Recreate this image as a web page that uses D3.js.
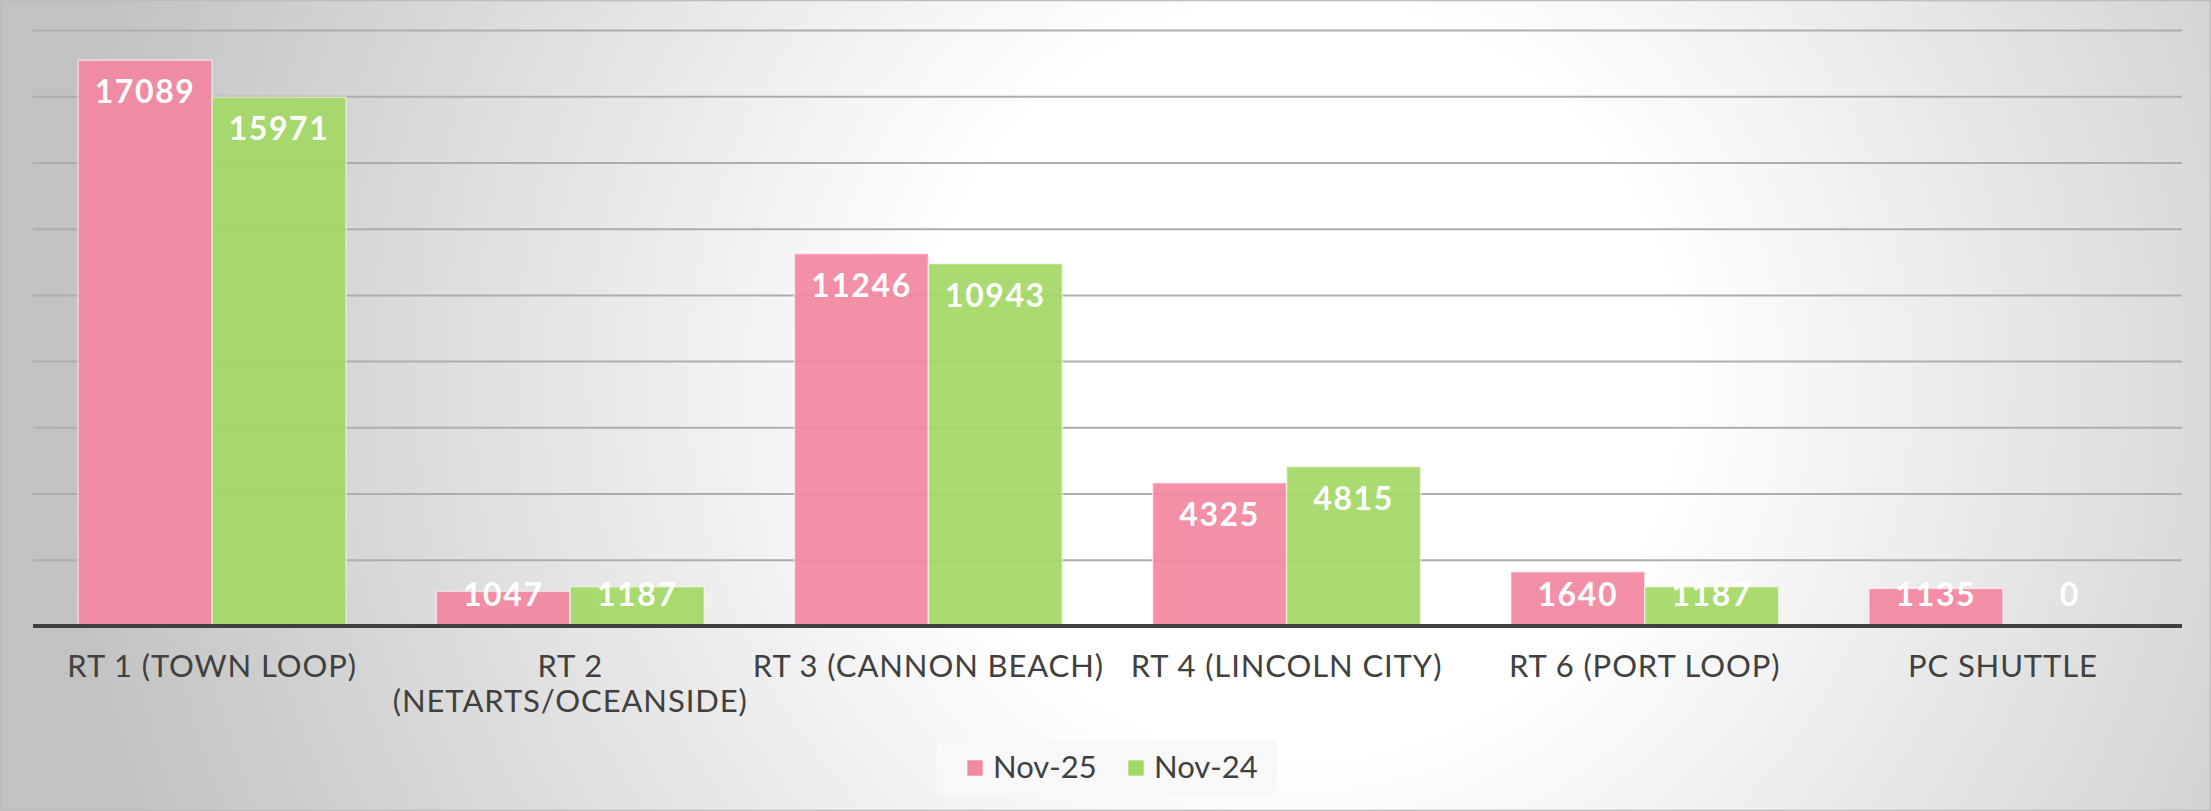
<!DOCTYPE html>
<html>
<head>
<meta charset="utf-8">
<script src="https://cdn.jsdelivr.net/npm/d3@7"></script>
<style>
  html, body { margin: 0; padding: 0; background: #fff; }
  svg { display: block; }
  .cat-label { font-family: Lato, 'Open Sans', sans-serif; font-size: 31px; fill: #404040; letter-spacing: 0.9px; }
  .val-label { font-family: Lato, 'Open Sans', sans-serif; font-size: 32px; font-weight: 700; fill: #fff; letter-spacing: 1.6px; }
  .legend-label { font-family: Lato, 'Open Sans', sans-serif; font-size: 31px; fill: #404040; }
</style>
</head>
<body>
<div id="chart"></div>
<script>
const categories = [
  'RT 1 (TOWN LOOP)',
  'RT 2 (NETARTS/OCEANSIDE)',
  'RT 3 (CANNON BEACH)',
  'RT 4 (LINCOLN CITY)',
  'RT 6 (PORT LOOP)',
  'PC SHUTTLE'
]
const seriesNames = ['Nov-25', 'Nov-24']
const nov25 = [17089, 1047, 11246, 4325, 1640, 1135]
const nov24 = [15971, 1187, 10943, 4815, 1187, 0]
const yTicks = [0, 2000, 4000, 6000, 8000, 10000, 12000, 14000, 16000, 18000]

const W = 2211
const H = 811
const margin = { top: 30, right: 29, bottom: 185, left: 33 }
const width = W - margin.left - margin.right
const height = H - margin.top - margin.bottom

const colors = { 'Nov-25': '#f2879f', 'Nov-24': '#a2d865' }

const datapoints = categories.map((c, i) => ({
  category: c,
  values: [
    { series: 'Nov-25', value: nov25[i] },
    { series: 'Nov-24', value: nov24[i] }
  ]
}))

const svgRoot = d3
  .select('#chart')
  .append('svg')
  .attr('width', W)
  .attr('height', H)

// background: radial grey-to-white fill like the office chart style
const defs = svgRoot.append('defs')
const grad = defs
  .append('radialGradient')
  .attr('id', 'bg')
  .attr('gradientUnits', 'userSpaceOnUse')
  .attr('cx', 1300)
  .attr('cy', 380)
  .attr('r', 1250)
grad.append('stop').attr('offset', 0).attr('stop-color', '#ffffff')
grad.append('stop').attr('offset', 0.3).attr('stop-color', '#ffffff')
grad.append('stop').attr('offset', 1).attr('stop-color', '#c2c2c2')

svgRoot
  .append('rect')
  .attr('x', 0.5)
  .attr('y', 0.5)
  .attr('width', W - 1)
  .attr('height', H - 1)
  .attr('fill', 'url(#bg)')
  .attr('stroke', '#bdbdbd')
  .attr('stroke-width', 1.5)

const svg = svgRoot
  .append('g')
  .attr('transform', 'translate(' + margin.left + ',' + margin.top + ')')

const yPositionScale = d3
  .scaleLinear()
  .domain([0, 18000])
  .range([height, 0])

const xPositionScale = d3
  .scaleBand()
  .domain(categories)
  .range([0, width])
  .paddingInner(0.252)
  .paddingOuter(0.126)

const seriesScale = d3
  .scaleBand()
  .domain(seriesNames)
  .range([0, xPositionScale.bandwidth()])

// gridlines
const yAxis = d3
  .axisLeft(yPositionScale)
  .tickValues(yTicks.slice(1))
  .tickSize(-width)
  .tickFormat('')

svg
  .append('g')
  .attr('class', 'axis y-axis')
  .call(yAxis)
svg.select('.y-axis .domain').remove()
svg
  .selectAll('.y-axis line')
  .attr('stroke', '#adadad')
  .attr('stroke-width', 2)

// bars
const groups = svg
  .selectAll('.group')
  .data(datapoints)
  .enter()
  .append('g')
  .attr('class', 'group')
  .attr('transform', d => 'translate(' + xPositionScale(d.category) + ',0)')

groups
  .selectAll('rect')
  .data(d => d.values)
  .enter()
  .append('rect')
  .attr('x', d => seriesScale(d.series))
  .attr('y', d => yPositionScale(d.value))
  .attr('width', seriesScale.bandwidth())
  .attr('height', d => height - yPositionScale(d.value))
  .attr('fill', d => colors[d.series])
  .attr('fill-opacity', 0.93)
  .attr('stroke', 'rgba(255,255,255,0.55)')
  .attr('stroke-width', d => (d.value > 0 ? 1.5 : 0))

// value labels, inside end (kept above axis on short bars)
groups
  .selectAll('.val-label')
  .data(d => d.values)
  .enter()
  .append('text')
  .attr('class', 'val-label')
  .attr('text-anchor', 'middle')
  .attr('x', d => seriesScale(d.series) + seriesScale.bandwidth() / 2)
  .attr('y', d => Math.min(yPositionScale(d.value) + 43, height - 20))
  .text(d => d.value)

// baseline
svg
  .append('line')
  .attr('x1', 0)
  .attr('x2', width)
  .attr('y1', yPositionScale(0))
  .attr('y2', yPositionScale(0))
  .attr('stroke', '#404040')
  .attr('stroke-width', 4)

// category labels
svg
  .selectAll('.cat-label')
  .data(categories)
  .enter()
  .append('text')
  .attr('class', 'cat-label')
  .attr('text-anchor', 'middle')
  .attr('x', d => xPositionScale(d) + xPositionScale.bandwidth() / 2)
  .attr('y', height + 51)
  .each(function(d) {
    const lines = d.length > 20 ? [d.slice(0, d.indexOf(' (')), d.slice(d.indexOf(' (') + 1)] : [d]
    const t = d3.select(this)
    lines.forEach((line, i) => {
      t.append('tspan')
        .attr('x', xPositionScale(d) + xPositionScale.bandwidth() / 2)
        .attr('dy', i === 0 ? 0 : 35)
        .text(line)
    })
  })

// legend
const legend = svgRoot.append('g').attr('transform', 'translate(937,741)')
legend
  .append('rect')
  .attr('width', 340)
  .attr('height', 55)
  .attr('fill', '#f8f8f8')

const legendItems = legend
  .selectAll('.legend-item')
  .data(seriesNames)
  .enter()
  .append('g')
  .attr('class', 'legend-item')
  .attr('transform', (d, i) => 'translate(' + (30 + i * 161) + ',0)')

legendItems
  .append('rect')
  .attr('y', 19)
  .attr('width', 16)
  .attr('height', 16)
  .attr('fill', d => colors[d])
  .attr('stroke', 'rgba(255,255,255,0.6)')

legendItems
  .append('text')
  .attr('class', 'legend-label')
  .attr('x', 26)
  .attr('y', 37)
  .text(d => d)
</script>
</body>
</html>
